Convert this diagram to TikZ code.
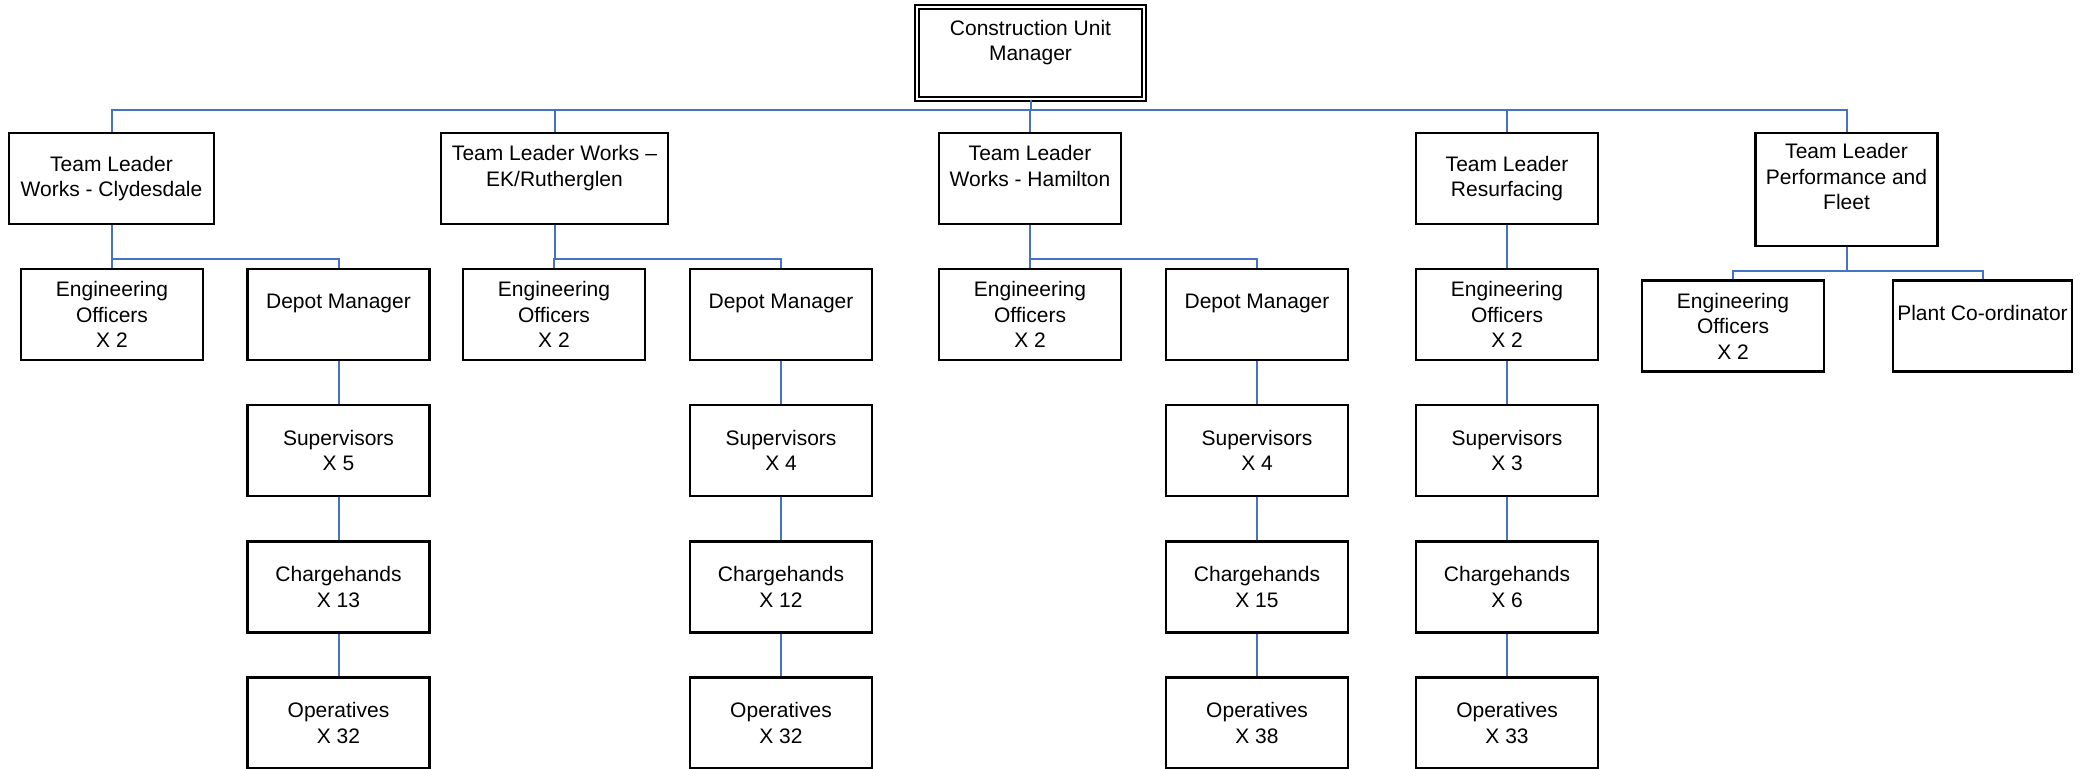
\documentclass[tikz,border=0pt]{standalone}
\usepackage{fontspec}
\setmainfont{Liberation Sans}
\usepackage{tikz}
\usetikzlibrary{positioning}

\definecolor{linkblue}{RGB}{68,114,196}
\tikzset{
  box/.style={draw=black, line width=1.1pt, fill=white, rectangle, inner sep=0pt,
    minimum width=91pt, minimum height=45.5pt, align=center,
    font=\fontsize{10.5}{12.75}\selectfont},
  topbox/.style={box, double, double distance=1pt, line width=0.8pt,
    minimum width=113.5pt, minimum height=46pt},
  link/.style={draw=linkblue, line width=1pt}
}

\begin{document}
\begin{tikzpicture}[x=0.5pt,y=0.5pt,yscale=-1,xscale=1]
            \useasboundingbox (0,0) rectangle (2096,769);

            % Manager
            \node [topbox] (cum) at (1030.5,53) {Construction Unit\\Manager\\~};

            % Team leaders
            \node [box, minimum width=102.5pt] (tl1) at (111.5,178.5) {Team Leader\\Works - Clydesdale};
            \node [box, minimum width=113.5pt] (tl2) at (554.5,178.5) {Team Leader Works --\\EK/Rutherglen\\~};
            \node [box] (tl3) at (1030,178.5) {Team Leader\\Works - Hamilton\\~};
            \node [box] (tl4) at (1507,178.5) {Team Leader\\Resurfacing};
            \node [box, minimum height=56.5pt] (tl5) at (1846.5,189.5) {Team Leader\\Performance and\\Fleet\\~};

            % Second row
            \node [box] (eo1) at (112,314.5) {Engineering\\Officers\\X 2};
            \node [box] (dm1) at (338.5,314.5) {Depot Manager\\~};
            \node [box] (eo2) at (554,314.5) {Engineering\\Officers\\X 2};
            \node [box] (dm2) at (781,314.5) {Depot Manager\\~};
            \node [box] (eo3) at (1030,314.5) {Engineering\\Officers\\X 2};
            \node [box] (dm3) at (1257,314.5) {Depot Manager\\~};
            \node [box] (eo4) at (1507,314.5) {Engineering\\Officers\\X 2};
            \node [box] (eo5) at (1733,326) {Engineering\\Officers\\X 2};
            \node [box, minimum width=89.5pt] (pc) at (1982.5,326) {Plant Co-ordinator\\~};

            % Supervisors
            \node [box] (sup1) at (338.5,450.5) {Supervisors\\X 5};
            \node [box] (sup2) at (781,450.5) {Supervisors\\X 4};
            \node [box] (sup3) at (1257,450.5) {Supervisors\\X 4};
            \node [box] (sup4) at (1507,450.5) {Supervisors\\X 3};

            % Chargehands
            \node [box] (chg1) at (338.5,587) {Chargehands\\X 13};
            \node [box] (chg2) at (781,587) {Chargehands\\X 12};
            \node [box] (chg3) at (1257,587) {Chargehands\\X 15};
            \node [box] (chg4) at (1507,587) {Chargehands\\X 6};

            % Operatives
            \node [box] (op1) at (338.5,723) {Operatives\\X 32};
            \node [box] (op2) at (781,723) {Operatives\\X 32};
            \node [box] (op3) at (1257,723) {Operatives\\X 38};
            \node [box] (op4) at (1507,723) {Operatives\\X 33};

            % Links from the manager
            \foreach \t in {tl1,tl2,tl3,tl4,tl5}
              \draw [link] (cum.south) -- ++(0,10) -| (\t.north);

            % Links from team leaders
            \foreach \t/\e/\d in {tl1/eo1/dm1, tl2/eo2/dm2, tl3/eo3/dm3}{
              \draw [link] (\t.south) -- ++(0,34) -| (\e.north);
              \draw [link] (\t.south) -- ++(0,34) -| (\d.north);
            }
            \draw [link] (tl4.south) -- (eo4.north);
            \draw [link] (tl5.south) -- ++(0,24) -| (eo5.north);
            \draw [link] (tl5.south) -- ++(0,24) -| (pc.north);

            % Depot chains
            \foreach \a/\b in {dm1/sup1, sup1/chg1, chg1/op1, dm2/sup2, sup2/chg2, chg2/op2,
                               dm3/sup3, sup3/chg3, chg3/op3, eo4/sup4, sup4/chg4, chg4/op4}
              \draw [link] (\a.south) -- (\b.north);

        \end{tikzpicture}
\end{document}
